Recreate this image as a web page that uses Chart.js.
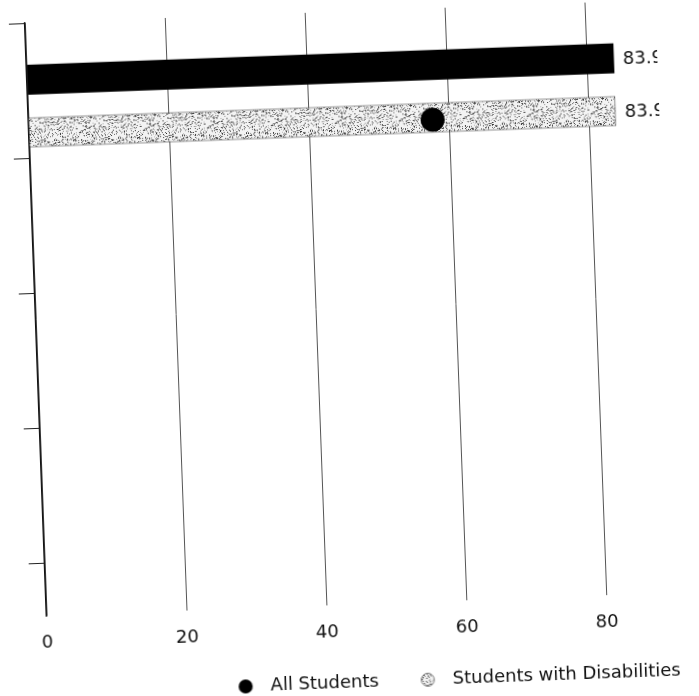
<!DOCTYPE html>
<html>
<head>
<meta charset="utf-8">
<title>All Students vs Students with Disabilities</title>
<script src="https://cdn.jsdelivr.net/npm/chart.js@4.4.1/dist/chart.umd.min.js"></script>
<style>
  html, body { margin: 0; padding: 0; background: #fff; width: 699px; height: 696px; overflow: hidden; }
  /* the scanned page is slightly tilted and cropped on the right */
  #frame { position: absolute; left: 0; top: 0; width: 655px; height: 714px; overflow: hidden; transform: rotate(-2.1deg); transform-origin: 0 0; }
  #box { width: 834px; height: 714px; }
</style>
</head>
<body>
<div id="frame"><div id="box"><canvas id="chart"></canvas></div></div>
<script>
const seriesNames = ['All Students', 'Students with Disabilities'];
const seriesValues = [83.9, 83.9];
const rowPos = [0.615];
const markerValue = [57.7];
const xTicks = [0, 20, 40, 60, 80];
const yTicks = [0, 1, 2, 3, 4];

Chart.defaults.font.family = '"DejaVu Sans", sans-serif';
Chart.defaults.color = '#111';

// grainy grey fill like the photocopied bar
function speckle(w, h, seed) {
  const c = document.createElement('canvas');
  c.width = w;
  c.height = h;
  const g = c.getContext('2d');
  g.fillStyle = '#f3f3f3';
  g.fillRect(0, 0, w, h);
  let s = seed;
  const rnd = () => (s = (s * 16807) % 2147483647) / 2147483647;
  for (let i = 0; i < w * h * 0.3; i++) {
    const x = Math.floor(rnd() * w);
    const y = Math.floor(rnd() * h);
    const v = Math.floor(40 + rnd() * 150);
    g.fillStyle = `rgb(${v},${v},${v})`;
    g.fillRect(x, y, 1, 1);
  }
  return c;
}

const grain = speckle(64, 64, 12345);
const grainPattern = document.createElement('canvas').getContext('2d').createPattern(grain, 'repeat');

function legendMarker(kind) {
  const c = document.createElement('canvas');
  c.width = 50;
  c.height = 18;
  const g = c.getContext('2d');
  g.beginPath();
  if (kind === 'solid') {
    g.arc(34, 9, 7, 0, Math.PI * 2);
    g.fillStyle = '#000';
    g.fill();
  } else {
    g.arc(34, 9, 6.5, 0, Math.PI * 2);
    g.fillStyle = g.createPattern(grain, 'repeat');
    g.fill();
    g.lineWidth = 1;
    g.strokeStyle = '#777';
    g.stroke();
  }
  return c;
}
const markers = [legendMarker('solid'), legendMarker('grain')];

const barLabels = {
  id: 'barLabels',
  afterDatasetsDraw(chart) {
    const ctx = chart.ctx;
    ctx.save();
    ctx.font = '18px "DejaVu Sans"';
    ctx.fillStyle = '#111';
    ctx.textBaseline = 'middle';
    chart.data.datasets.forEach((ds, i) => {
      chart.getDatasetMeta(i).data.forEach((bar, j) => {
        ctx.fillText(ds.data[j].x.toFixed(1), bar.x + 9, bar.y + 2);
      });
    });
    ctx.restore();
  }
};

const markerDot = {
  id: 'markerDot',
  afterDatasetsDraw(chart) {
    const ctx = chart.ctx;
    const bar = chart.getDatasetMeta(1).data[0];
    const x = chart.scales.x.getPixelForValue(markerValue[0]);
    ctx.save();
    ctx.beginPath();
    ctx.arc(x, bar.y + 2, 12, 0, Math.PI * 2);
    ctx.fillStyle = '#000';
    ctx.fill();
    ctx.restore();
  }
};

new Chart(document.getElementById('chart'), {
  type: 'bar',
  data: {
    datasets: [
      {
        label: seriesNames[0],
        data: [{ x: seriesValues[0], y: rowPos[0] }],
        backgroundColor: '#000',
        borderWidth: 0,
        categoryPercentage: 0.782,
        barPercentage: 0.568
      },
      {
        label: seriesNames[1],
        data: [{ x: seriesValues[1], y: rowPos[0] }],
        backgroundColor: grainPattern,
        borderColor: '#333',
        borderWidth: 1,
        categoryPercentage: 0.782,
        barPercentage: 0.568
      }
    ]
  },
  options: {
    indexAxis: 'y',
    responsive: true,
    maintainAspectRatio: false,
    animation: false,
    layout: { padding: { left: 8, top: 24, right: 0, bottom: 0 } },
    scales: {
      x: {
        type: 'linear',
        min: 0,
        max: 115.7,
        afterBuildTicks: (s) => { s.ticks = xTicks.map((v) => ({ value: v })); },
        grid: { color: '#555', lineWidth: 1, drawTicks: false },
        border: { display: false },
        ticks: { color: '#111', padding: 16.2, font: { size: 18, lineHeight: 1.2 } }
      },
      y: {
        type: 'linear',
        reverse: true,
        min: 0,
        max: 4.39,
        offset: false,
        afterBuildTicks: (s) => { s.ticks = yTicks.map((v) => ({ value: v })); },
        grid: { drawOnChartArea: false, tickLength: 16, color: '#222', offset: false },
        border: { color: '#111', width: 1.5 },
        ticks: { display: false }
      }
    },
    plugins: {
      tooltip: { enabled: false },
      legend: {
        position: 'bottom',
        labels: {
          usePointStyle: true,
          pointStyleWidth: 50,
          padding: 15,
          color: '#111',
          font: { size: 18 },
          generateLabels: (chart) =>
            Chart.defaults.plugins.legend.labels.generateLabels(chart).map((item, i) => ({ ...item, pointStyle: markers[i] }))
        }
      }
    }
  },
  plugins: [barLabels, markerDot]
});
</script>
</body>
</html>
